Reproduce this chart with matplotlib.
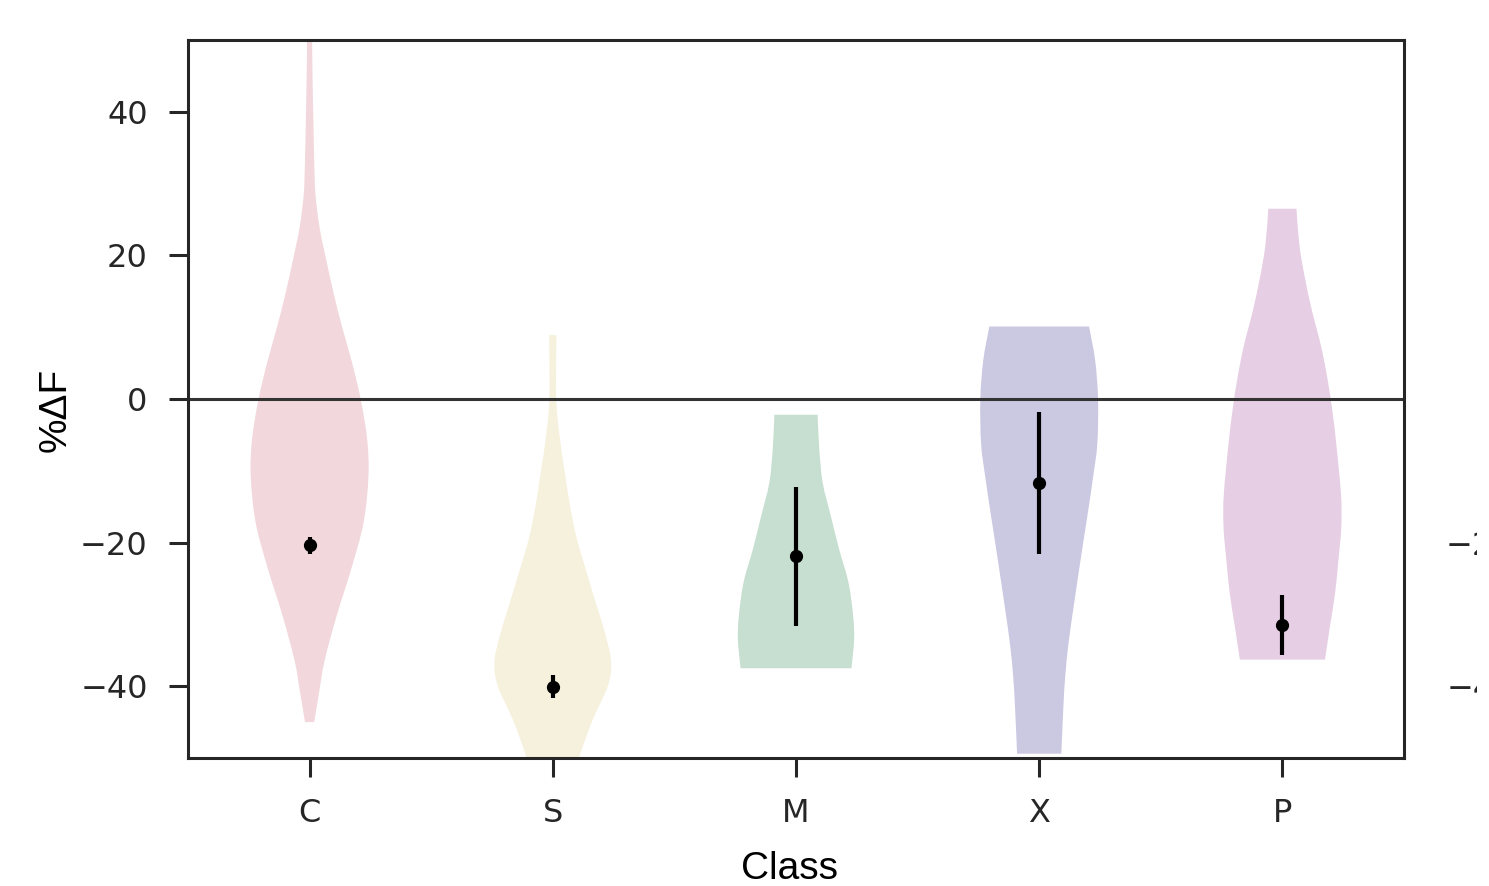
import matplotlib
matplotlib.use("Agg")
import matplotlib.pyplot as plt
from matplotlib.path import Path
from matplotlib.patches import PathPatch
from matplotlib.transforms import Bbox
import numpy as np

# classes along the x axis
classes = ["C", "S", "M", "X", "P"]
colors = ["#f2d8dc", "#f5f1dd", "#c7dfd1", "#cbc8e1", "#e6cfe4"]

# violin outlines: %dF levels and half widths (in class units)
c_y = [52, 45, 38, 33.2, 28.6, 23.9, 19.3, 14.7, 10, 5.4, 0, -5.7, -10.8,
       -17.2, -23.6, -30, -36.4, -40.9, -45]
c_w = [0.010, 0.012, 0.016, 0.019, 0.024, 0.041, 0.069, 0.099, 0.134, 0.172,
       0.210, 0.237, 0.242, 0.222, 0.172, 0.113, 0.062, 0.039, 0.019]

s_y = [8.9, 0, -5.2, -9.9, -14.5, -19.1, -23.8, -28.4, -33, -36.7, -40,
       -44.6, -49.2, -52]
s_w = [0.015, 0.014, 0.028, 0.048, 0.069, 0.096, 0.136, 0.177, 0.218, 0.240,
       0.226, 0.165, 0.115, 0.091]

m_y = [-2.2, -7.1, -11.7, -16.4, -21, -25.6, -30.2, -33.5, -37.5]
m_w = [0.089, 0.096, 0.110, 0.144, 0.178, 0.216, 0.235, 0.239, 0.228]

x_y = [10.1, 5.4, 0, -6.2, -10.8, -15.4, -20, -24.7, -29.3, -33.9, -38.6,
       -43.2, -49.4]
x_w = [0.205, 0.230, 0.242, 0.239, 0.222, 0.202, 0.181, 0.160, 0.140, 0.121,
       0.107, 0.099, 0.091]

p_y = [26.5, 21.4, 16.8, 12.1, 7.5, 2.9, -1.8, -6.4, -13.3, -17.9, -22.6,
       -27.2, -31.8, -36.3]
p_w = [0.058, 0.070, 0.093, 0.123, 0.158, 0.185, 0.206, 0.222, 0.241, 0.242,
       0.230, 0.216, 0.195, 0.175]

# mean and error of each class
means = [-20.4, -40.1, -21.9, -11.7, -31.5]
errs = [1.2, 1.6, 9.7, 9.9, 4.2]

profiles = [(c_y, c_w), (s_y, s_w), (m_y, m_w), (x_y, x_w), (p_y, p_w)]


def spline_side(pts):
    # catmull-rom through the outline points, as cubic bezier pieces
    pts = np.asarray(pts, dtype=float)
    ext = np.vstack([pts[:1], pts, pts[-1:]])
    verts, codes = [], []
    for k in range(1, len(ext) - 2):
        p0, p1, p2, p3 = ext[k - 1], ext[k], ext[k + 1], ext[k + 2]
        verts += [p1 + (p2 - p0) / 6, p2 - (p3 - p1) / 6, p2]
        codes += [Path.CURVE4] * 3
    return verts, codes


def violin_path(center, ys, ws):
    ys = np.asarray(ys, dtype=float)
    ws = np.asarray(ws, dtype=float)
    right = np.column_stack([center + ws, ys])
    left = np.column_stack([center - ws, ys])[::-1]
    verts = [right[0]]
    codes = [Path.MOVETO]
    v, c = spline_side(right)
    verts += v
    codes += c
    verts.append(left[0])
    codes.append(Path.LINETO)
    v, c = spline_side(left)
    verts += v
    codes += c
    verts.append(right[0])
    codes.append(Path.CLOSEPOLY)
    return Path(verts, codes)


ink = "#262626"
plt.rcParams["font.family"] = "DejaVu Sans"

fig = plt.figure(figsize=(14.89, 8.86), dpi=100)
ax = fig.add_axes([188 / 1489, 128 / 886, 1216 / 1489, 718 / 886])

for i, ((yy, ww), col) in enumerate(zip(profiles, colors)):
    ax.add_patch(PathPatch(violin_path(i, yy, ww), facecolor=col, lw=0,
                           zorder=1))

ax.axhline(0, color="#333333", lw=2.2, zorder=2)

xpos = np.arange(len(classes))
ax.errorbar(xpos, means, yerr=errs, fmt="o", color="black", ms=8.5,
            elinewidth=3, capsize=0, zorder=3)

ax.set_xlim(-0.5, 4.5)
ax.set_ylim(-50, 50)
ax.set_xticks(xpos)
ax.set_xticklabels(classes)
ax.set_yticks([-40, -20, 0, 20, 40])
ax.set_yticklabels(["\u221240", "\u221220", "0", "20", "40"])

for sp in ax.spines.values():
    sp.set_color(ink)
    sp.set_linewidth(2.2)
ax.tick_params(axis="both", length=14, width=2.2, pad=15, labelsize=23,
               color=ink, labelcolor=ink)

ax.set_xlabel("Class", fontsize=28, family="Liberation Sans", color="black")
ax.set_ylabel("%\u0394F", fontsize=28, family="Liberation Sans", color="black")
ax.xaxis.set_label_coords(0.495, -0.129)
ax.yaxis.set_label_coords(-0.094, 0.485)

# next panel over, mostly outside the canvas
ax2 = fig.add_axes([1554 / 1489, 128 / 886, 0.5, 718 / 886])
ax2.set_ylim(-50, 50)
ax2.set_yticks([-40, -20, 0])
ax2.set_yticklabels(["\u221240", "\u221220", "0"])
ax2.set_xticks([])
ax2.tick_params(axis="y", length=14, width=2.2, pad=15, labelsize=23,
                color=ink, labelcolor=ink)
edge = Bbox([[0, 0], [1477, 886]])
for lab in ax2.get_yticklabels():
    lab.set_clip_box(edge)
    lab.set_clip_on(True)

fig.savefig("out.png", dpi=100)
